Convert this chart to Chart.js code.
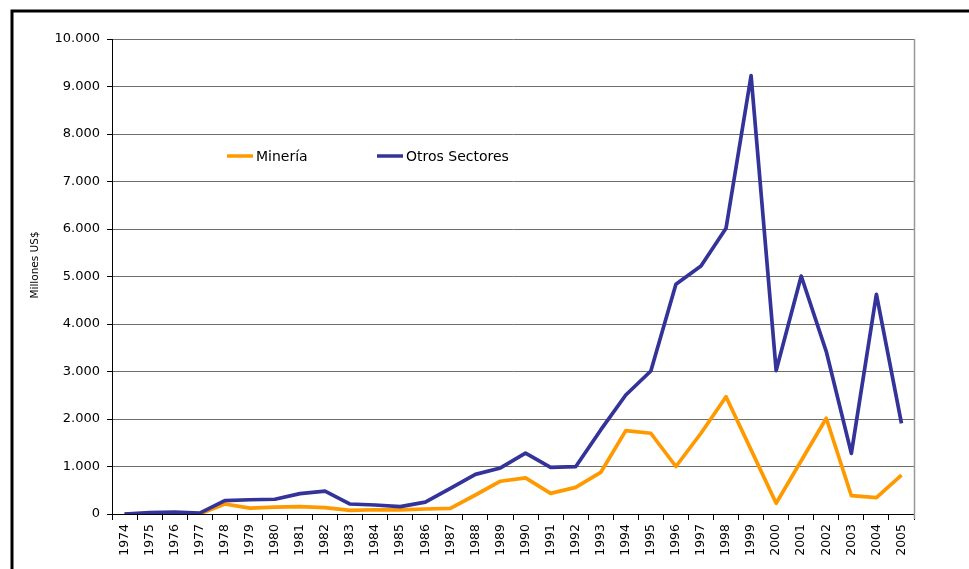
<!DOCTYPE html>
<html>
<head>
<meta charset="utf-8">
<script src="https://cdn.jsdelivr.net/npm/chart.js@4.4.0/dist/chart.umd.min.js"></script>
<style>
  html, body { margin: 0; padding: 0; background: #fff; overflow: hidden; }
  #wrap { position: relative; width: 969px; height: 569px; }
</style>
</head>
<body>
<div id="wrap"><canvas id="c" width="969" height="569"></canvas></div>
<script>
// Inversión extranjera materializada, millones de US$
const years = ['1974','1975','1976','1977','1978','1979','1980','1981','1982','1983','1984',
  '1985','1986','1987','1988','1989','1990','1991','1992','1993','1994','1995','1996',
  '1997','1998','1999','2000','2001','2002','2003','2004','2005'];

const mineria = [0, 10, 15, 0, 210, 125, 145, 155, 135, 75, 90,
  85, 105, 120, 400, 690, 760, 435, 560, 875, 1755, 1700, 1000,
  1700, 2470, 1350, 225, 1120, 2015, 385, 345, 820];

const otrosSectores = [0, 30, 40, 20, 280, 300, 310, 430, 480, 210, 190,
  155, 250, 540, 835, 970, 1280, 983, 996, 1770, 2505, 3010, 4835,
  5220, 6015, 9230, 3020, 5010, 3420, 1277, 4625, 1909];

const yTickValues = [0, 1000, 2000, 3000, 4000, 5000, 6000, 7000, 8000, 9000, 10000];

const yTitle = 'Millones US$';

const FONT = '"DejaVu Sans", Verdana, sans-serif';

function fmtMiles(v) {
  return String(v).replace(/\B(?=(\d{3})+(?!\d))/g, '.');
}

// outer frame (top and left rules), right plot edge and axis title
const framePlugin = {
  id: 'frame',
  beforeDraw(chart) {
    const ctx = chart.ctx;
    ctx.save();
    ctx.fillStyle = '#fff';
    ctx.fillRect(0, 0, chart.width, chart.height);
    ctx.strokeStyle = '#000';
    ctx.lineWidth = 3;
    ctx.beginPath();
    ctx.moveTo(12, chart.height);
    ctx.lineTo(12, 11);
    ctx.lineTo(chart.width, 11);
    ctx.stroke();
    ctx.restore();
  },
  afterDraw(chart) {
    const a = chart.chartArea, ctx = chart.ctx;
    ctx.save();
    ctx.strokeStyle = '#999';
    ctx.lineWidth = 1.5;
    ctx.beginPath();
    ctx.moveTo(a.right + 0.5, a.top);
    ctx.lineTo(a.right + 0.5, a.bottom + 5);
    ctx.stroke();

    ctx.translate(35, a.top + 226);
    ctx.rotate(-Math.PI / 2);
    ctx.font = '10.5px ' + FONT;
    ctx.fillStyle = '#000';
    ctx.textAlign = 'center';
    ctx.textBaseline = 'middle';
    ctx.fillText(yTitle, 0, 0);
    ctx.restore();
  }
};

// legend drawn inside the plot area
const innerLegend = {
  id: 'innerLegend',
  afterDatasetsDraw(chart) {
    const a = chart.chartArea, ctx = chart.ctx;
    const slots = [a.left + 115, a.left + 265];
    const y = a.top + 117;
    ctx.save();
    ctx.font = '14px ' + FONT;
    ctx.textBaseline = 'middle';
    ctx.fillStyle = '#000';
    chart.data.datasets.forEach((ds, i) => {
      const x = slots[i];
      ctx.strokeStyle = ds.borderColor;
      ctx.lineWidth = 3.5;
      ctx.beginPath();
      ctx.moveTo(x, y);
      ctx.lineTo(x + 26, y);
      ctx.stroke();
      ctx.fillText(ds.label, x + 29, y + 1);
    });
    ctx.restore();
  }
};

new Chart(document.getElementById('c'), {
  type: 'line',
  data: {
    labels: years,
    datasets: [
      {
        label: 'Minería',
        data: mineria,
        borderColor: '#ff9900',
        backgroundColor: '#ff9900',
        borderWidth: 3.7,
        borderJoinStyle: 'round',
        pointRadius: 0,
        tension: 0,
        order: 1
      },
      {
        label: 'Otros Sectores',
        data: otrosSectores,
        borderColor: '#333399',
        backgroundColor: '#333399',
        borderWidth: 3.7,
        borderJoinStyle: 'round',
        pointRadius: 0,
        tension: 0,
        order: 0
      }
    ]
  },
  options: {
    responsive: false,
    animation: false,
    devicePixelRatio: 1,
    layout: { padding: { top: 39, right: 55, left: 0, bottom: 0 } },
    plugins: {
      legend: { display: false },
      tooltip: { enabled: false }
    },
    scales: {
      x: {
        type: 'category',
        offset: true,
        grid: {
          display: true,
          drawOnChartArea: false,
          drawTicks: true,
          tickLength: 6,
          color: '#000',
          offset: true
        },
        border: { color: '#000', width: 1 },
        ticks: {
          autoSkip: false,
          minRotation: 90,
          maxRotation: 90,
          padding: 4,
          color: '#000',
          font: { family: FONT, size: 12.5 }
        },
        afterFit(scale) { scale.height = 55; }
      },
      y: {
        min: 0,
        max: 10000,
        afterBuildTicks(scale) {
          scale.ticks = yTickValues.map(v => ({ value: v }));
        },
        ticks: {
          padding: 7,
          color: '#000',
          font: { family: FONT, size: 13 },
          callback: v => fmtMiles(v)
        },
        grid: {
          color: '#6e6e6e',
          lineWidth: 1,
          tickLength: 5,
          tickColor: '#000'
        },
        border: { color: '#000', width: 1 },
        afterFit(scale) { scale.width = 112; }
      }
    }
  },
  plugins: [framePlugin, innerLegend]
});
</script>
</body>
</html>
